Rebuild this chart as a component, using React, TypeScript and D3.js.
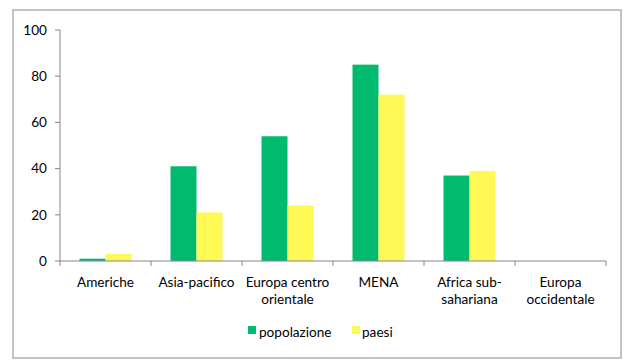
import { useEffect, useRef } from 'react';
import * as d3 from 'd3';

const categories = ['Americhe', 'Asia-pacifico', 'Europa centro\norientale', 'MENA', 'Africa sub-\nsahariana', 'Europa\noccidentale'];
const series = ['popolazione', 'paesi'];
const popolazione = [1, 41, 54, 85, 37, 0];
const paesi = [3, 21, 24, 72, 39, 0];
const yTicks = [0, 20, 40, 60, 80, 100];
const colors = ['#00BA6E', '#FFF955'];

export default function App() {
  const svgRef = useRef<SVGSVGElement>(null);
  const width = 633;
  const height = 364;

  useEffect(() => {
    const svg = d3.select(svgRef.current);
    svg.selectAll('*').remove();

    const left = 60, right = 606, top = 30, bottom = 261;
    const font = 'Lato, "Open Sans", sans-serif';
    const fontSize = '13.6px';

    // frame
    svg.append('rect')
      .attr('x', 13).attr('y', 10)
      .attr('width', 608).attr('height', 348)
      .attr('fill', 'white')
      .attr('stroke', '#c3c3c3')
      .attr('stroke-width', 2);

    const x0 = d3.scaleBand<number>()
      .domain(d3.range(categories.length))
      .range([left, right])
      .paddingInner(0)
      .paddingOuter(0);

    const x1 = d3.scaleBand<number>()
      .domain([0, 1])
      .range([0, x0.bandwidth()])
      .paddingInner(0)
      .paddingOuter(0.75);

    const y = d3.scaleLinear().domain([0, 100]).range([bottom, top]);

    const values = [popolazione, paesi];
    const g = svg.append('g');
    values.forEach((vals, s) => {
      g.selectAll(`.bar-${s}`)
        .data(vals)
        .enter().append('rect')
        .attr('x', (d, i) => x0(i)! + x1(s)!)
        .attr('y', d => y(d))
        .attr('width', x1.bandwidth())
        .attr('height', d => bottom - y(d))
        .attr('fill', colors[s]);
    });

    // y axis
    const axisColor = '#868686';
    svg.append('line')
      .attr('x1', left).attr('x2', left)
      .attr('y1', top).attr('y2', bottom)
      .attr('stroke', axisColor).attr('stroke-width', 1);
    yTicks.forEach(t => {
      svg.append('line')
        .attr('x1', left - 5).attr('x2', left)
        .attr('y1', y(t)).attr('y2', y(t))
        .attr('stroke', axisColor);
      svg.append('text')
        .attr('x', left - 13)
        .attr('y', y(t))
        .attr('dy', '0.35em')
        .attr('text-anchor', 'end')
        .style('font-family', font)
        .style('font-size', fontSize)
        .style('fill', '#000')
        .text(t);
    });

    // x axis
    svg.append('line')
      .attr('x1', left).attr('x2', right)
      .attr('y1', bottom).attr('y2', bottom)
      .attr('stroke', axisColor).attr('stroke-width', 1);
    d3.range(categories.length + 1).forEach(i => {
      const xx = i < categories.length ? x0(i)! : right;
      svg.append('line')
        .attr('x1', xx).attr('x2', xx)
        .attr('y1', bottom).attr('y2', bottom + 5)
        .attr('stroke', axisColor);
    });
    categories.forEach((c, i) => {
      const t = svg.append('text')
        .attr('text-anchor', 'middle')
        .style('font-family', font)
        .style('font-size', fontSize)
        .style('fill', '#000');
      c.split('\n').forEach((line, j) => {
        t.append('tspan')
          .attr('x', x0(i)! + x0.bandwidth() / 2)
          .attr('y', 287 + j * 17)
          .text(line);
      });
    });

    // legend
    const legendItems = [
      { x: 248, tx: 259 },
      { x: 352, tx: 362 },
    ];
    series.forEach((s, i) => {
      svg.append('rect')
        .attr('x', legendItems[i].x).attr('y', 326)
        .attr('width', 8).attr('height', 8)
        .attr('fill', colors[i]);
      svg.append('text')
        .attr('x', legendItems[i].tx)
        .attr('y', 337)
        .style('font-family', font)
        .style('font-size', fontSize)
        .style('fill', '#000')
        .text(s);
    });
  }, []);

  return (
    <svg ref={svgRef} width={width} height={height} style={{ position: 'absolute', left: 0, top: 0 }} />
  );
}
